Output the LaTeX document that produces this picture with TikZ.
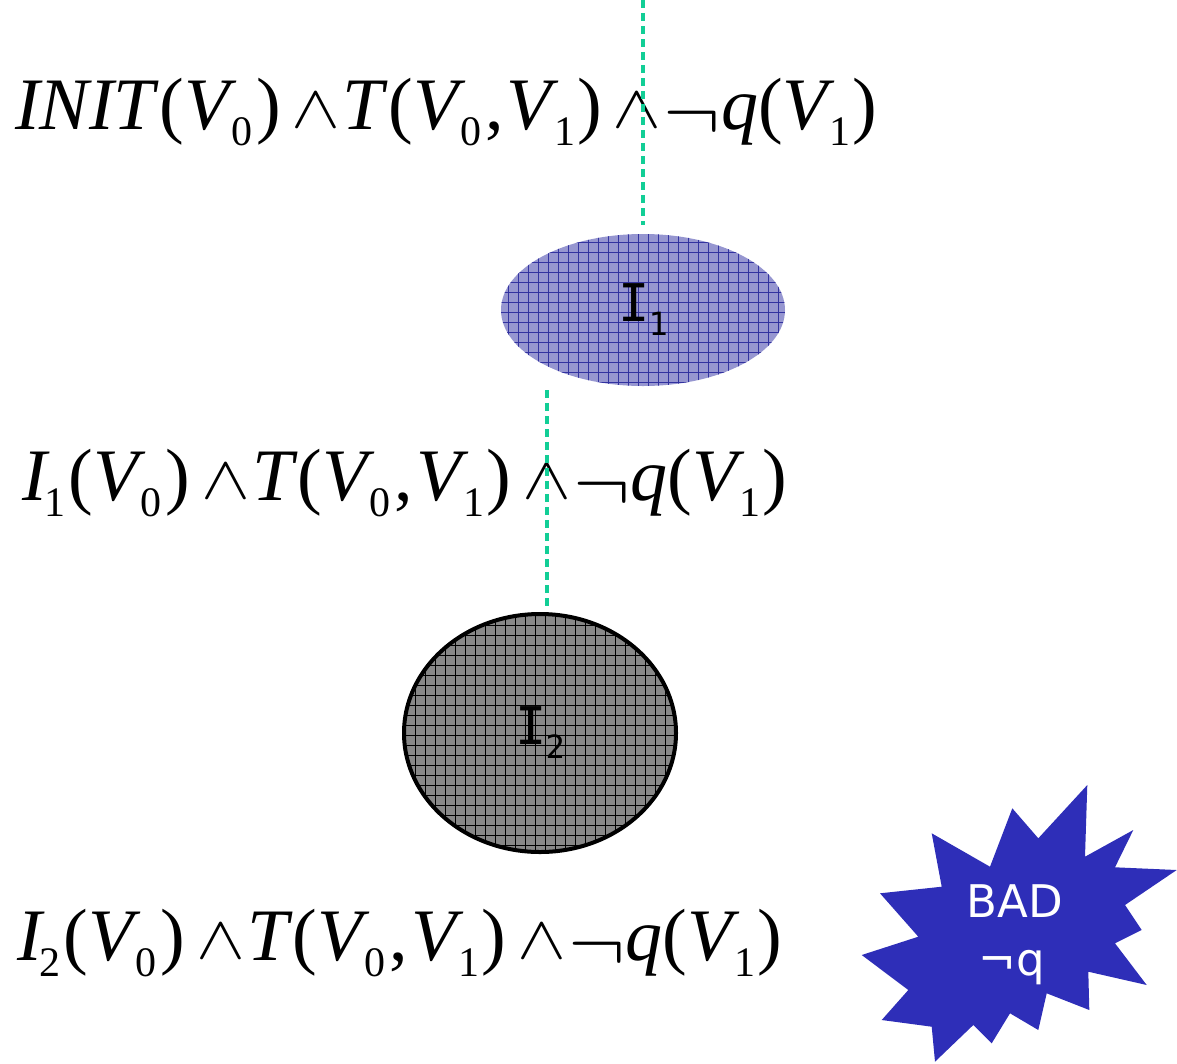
\documentclass[tikz,border=0pt]{standalone}
\usepackage{graphicx}
\usepackage{fontspec}
\setmainfont{Liberation Serif}
\newfontfamily\handf{DejaVu Sans}
\newfontfamily\labf{DejaVu Sans Mono}
\usetikzlibrary{shapes.geometric}
\definecolor{teal2}{RGB}{18,206,150}
\definecolor{ellblue}{RGB}{150,150,208}
\definecolor{gridblue}{RGB}{50,50,160}
\definecolor{ellgray}{RGB}{136,136,136}
\definecolor{badblue}{RGB}{46,46,184}
\newcommand{\lowsub}[1]{\hspace{-5pt}\raisebox{-16pt}{\fontsize{42}{42}\selectfont #1}}
\newcommand{\andop}{\hspace{11pt}\raisebox{2pt}{\scalebox{2.95}[2.45]{$\wedge$}}\hspace{2pt}}
\newcommand{\notop}{\raisebox{-10pt}{\scalebox{3.45}[3.2]{$\neg$}}\hspace{0pt}}
\newcommand{\tailf}{\andop\textit{T}(\textit{V}\lowsub{0}\hspace{4pt},\hspace{3pt}\textit{V}\lowsub{1}\hspace{2pt})\andop\notop\textit{q}(\textit{V}\lowsub{1}\hspace{2pt})}
\tikzset{
  formula/.style={anchor=base west, inner sep=0pt, font=\fontsize{74}{74}\selectfont},
  dashline/.style={draw=teal2, line width=3.5pt, dash pattern=on 8pt off 5pt},
  setblue/.style={ellipse, fill=ellblue, inner sep=0pt,
    font=\labf\fontsize{52}{52}\selectfont,
    path picture={\draw[gridblue, line width=0.7pt]
      ([shift={(-300pt,-300pt)}]path picture bounding box.center) grid[step=10pt]
      ([shift={(300pt,300pt)}]path picture bounding box.center);}},
  setgray/.style={ellipse, fill=ellgray, draw=black, line width=4pt, inner sep=0pt,
    font=\labf\fontsize{52}{52}\selectfont,
    path picture={\draw[black, line width=0.7pt]
      ([shift={(-300pt,-300pt)}]path picture bounding box.center) grid[step=10pt]
      ([shift={(300pt,300pt)}]path picture bounding box.center);}},
  badtext/.style={text=white, font=\handf\fontsize{45}{45}\selectfont, align=center, inner sep=0pt}
}
\begin{document}
\begin{tikzpicture}[x=1pt,y=-1pt]
\useasboundingbox (0,0) rectangle (1177,1063);
% formulas
\node[formula] (f1) at (15,129) {\textit{INIT}(\textit{V}\lowsub{0}\hspace{4pt})\tailf};
\node[formula] (f2) at (22,500) {\textit{I}\lowsub{1}\hspace{3pt}(\textit{V}\lowsub{0}\hspace{4pt})\tailf};
\node[formula] (f3) at (17,960) {\textit{I}\lowsub{2}\hspace{3pt}(\textit{V}\lowsub{0}\hspace{4pt})\tailf};
% sets
\node[setblue, minimum width=284pt, minimum height=152pt] (i1) at (643,310) {I\hspace{-1pt}\raisebox{-14pt}{\fontsize{32}{32}\selectfont 1}};
\node[setgray, minimum width=272pt, minimum height=238pt] (i2) at (540,733) {I\hspace{-1pt}\raisebox{-14pt}{\fontsize{32}{32}\selectfont 2}};
% dashed connectors
\coordinate (t1) at (643,0);
\coordinate (b1) at (643,225);
\coordinate (t2) at (547,390);
\coordinate (b2) at (547,610);
\draw[dashline] (t1) -- (b1);
\draw[dashline] (t2) -- (b2);
% BAD star
\fill[badblue] (1087.3,785) -- (1085,856.7) -- (1133.3,830) -- (1115,867.3) -- (1176.7,870)
  -- (1125,905) -- (1141.7,930) -- (1115,943.3) -- (1146.7,985) -- (1088.3,971.7)
  -- (1089.3,1010) -- (1046.7,993.3) -- (1038.3,1030) -- (1010,1013.3) -- (991.7,1043.3)
  -- (973.3,1025) -- (935,1061.7) -- (931.7,1026.7) -- (881.7,1020) -- (908.3,990)
  -- (861.7,955) -- (918.3,936.7) -- (880,893.3) -- (941.7,886.7) -- (931.7,833.3)
  -- (990,866.7) -- (1012.3,808.3) -- (1038.3,838.3) -- cycle;
\node[badtext] (bad) at (1015,901) {BAD};
\node[badtext] (nq) at (1012,968) {¬q};
\end{tikzpicture}
\end{document}
